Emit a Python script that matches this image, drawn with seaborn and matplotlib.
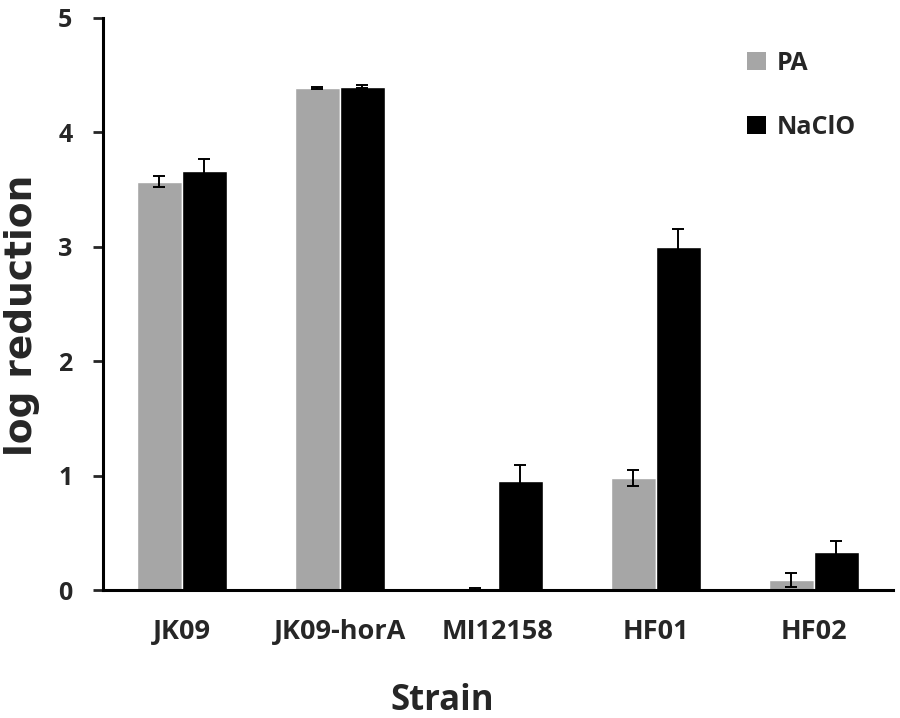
import matplotlib
matplotlib.use("Agg")
import matplotlib.pyplot as plt
import seaborn as sns
import pandas as pd
import numpy as np
from matplotlib.patches import Patch

strains = ["JK09", "JK09-horA", "MI12158", "HF01", "HF02"]
pa_values = [3.57, 4.39, 0.01, 0.98, 0.09]
pa_errors = [0.05, 0.01, 0.005, 0.07, 0.06]
naclo_values = [3.66, 4.40, 0.955, 3.00, 0.33]
naclo_errors = [0.11, 0.01, 0.14, 0.16, 0.10]
treatments = ["PA", "NaClO"]
colors = {"PA": "#A6A6A6", "NaClO": "#000000"}

df = pd.DataFrame({
    "Strain": strains * 2,
    "Treatment": ["PA"] * len(strains) + ["NaClO"] * len(strains),
    "value": pa_values + naclo_values,
    "err": pa_errors + naclo_errors,
})

sns.set_style("white")
plt.rcParams['font.family'] = ['Open Sans', 'DejaVu Sans']

fig = plt.figure(figsize=(9, 7.18), dpi=100)
ax = fig.add_axes([0.1144, 0.178, 0.8776, 0.797])

sns.barplot(data=df, x="Strain", y="value", hue="Treatment", order=strains,
            hue_order=treatments, palette=colors, width=0.57, errorbar=None,
            saturation=1, ax=ax, legend=False)

# error bars at the bar centres
for cont, t in zip(ax.containers, treatments):
    sub = df[df.Treatment == t].set_index("Strain").loc[strains]
    xs = [p.get_x() + p.get_width() / 2 for p in cont.patches]
    ax.errorbar(xs, sub["value"].values, yerr=sub["err"].values, fmt="none",
                ecolor="black", elinewidth=1.4, capsize=4.5, capthick=1.4, zorder=5)

ax.set_ylim(0, 5)
ax.set_xlim(-0.5, 4.5)
ax.set_yticks([0, 1, 2, 3, 4, 5])
ax.tick_params(axis="y", direction="out", length=7, width=2, left=True,
               labelsize=18, pad=15)
ax.tick_params(axis="x", length=0, labelsize=19.5, pad=21)
for lbl in ax.get_xticklabels() + ax.get_yticklabels():
    lbl.set_fontweight("bold")

for s in ["top", "right"]:
    ax.spines[s].set_visible(False)
ax.spines["left"].set_linewidth(2.2)
ax.spines["bottom"].set_linewidth(2.2)
ax.spines["left"].set_color("black")
ax.spines["bottom"].set_color("black")

ax.set_xlabel("Strain", fontsize=25, fontweight="bold")
ax.xaxis.set_label_coords(0.43, -0.163)
ax.set_ylabel("log reduction", fontsize=27, fontweight="bold",
              family=["DejaVu Sans"])
ax.yaxis.set_label_coords(-0.08, 0.48)

handles = [Patch(facecolor=colors[t], edgecolor="none") for t in treatments]
ax.legend(handles, treatments, loc="upper left", bbox_to_anchor=(0.787, 0.982),
          frameon=False, labelspacing=1.55, handlelength=0.75,
          handleheight=0.75, handletextpad=0.45, prop={"weight": "bold", "size": 18})

fig.savefig("out.png", dpi=100)
